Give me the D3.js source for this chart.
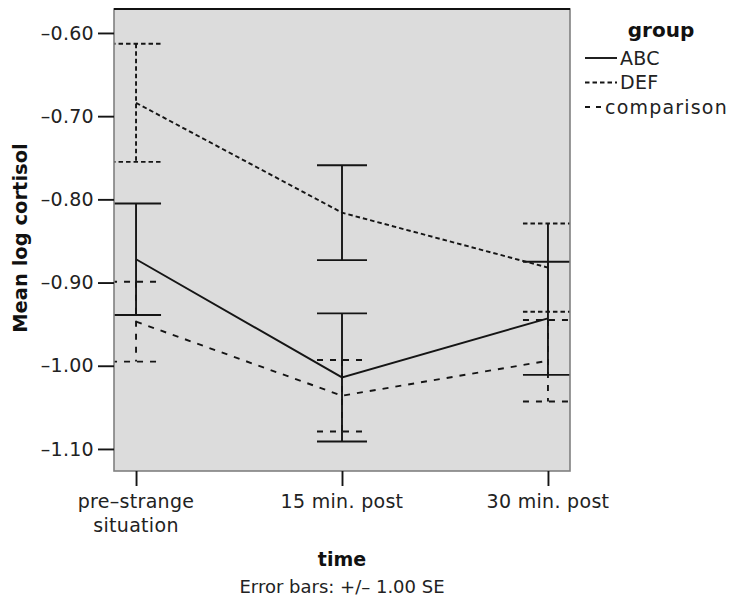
<!DOCTYPE html>
<html lang="en">
<head>
    <meta charset="UTF-8">
    <title>Mean log cortisol by time</title>
    <script src="https://d3js.org/d3.v7.min.js"></script>
    <style>
        body { margin: 0; background: #fff; }
        #canvas { font-family: "DejaVu Sans", sans-serif; }
    </style>
</head>
<body>
<svg id="canvas" width="736" height="604"></svg>
<script>
    // chart data
    const times = ["pre", "15", "30"];
    const timeLabels = [["pre\u2013strange", "situation"], ["15 min. post"], ["30 min. post"]];
    const groups = ["ABC", "DEF", "comparison"];
    const abcMean = [-0.872, -1.014, -0.943];
    const abcSE = [0.067, 0.077, 0.068];
    const defMean = [-0.684, -0.816, -0.882];
    const defSE = [0.071, 0.057, 0.053];
    const compMean = [-0.947, -1.036, -0.994];
    const compSE = [0.048, 0.043, 0.049];
    const yTicks = [-0.60, -0.70, -0.80, -0.90, -1.00, -1.10];

    const dashes = {ABC: null, DEF: "4.5,3", comparison: "6,7"};
    // the original draws some error bars of a dashed group solid
    const series = [
        {name: "ABC", mean: abcMean, se: abcSE, solidStem: [true, true, true], solidCap: [true, true, true]},
        {name: "DEF", mean: defMean, se: defSE, solidStem: [false, true, true], solidCap: [false, true, false]},
        {name: "comparison", mean: compMean, se: compSE, solidStem: [false, false, false], solidCap: [false, false, false]}
    ];

    const plotL = 114, plotR = 570, plotT = 9, plotB = 471;
    const svg = d3.select("#canvas");

    let x = d3.scalePoint().domain(times).range([plotL, plotR]).padding(0.107);
    let y = d3.scaleLinear().domain([-0.5712, -1.1265]).range([plotT, plotB]);

    svg.append("clipPath").attr("id", "plotclip")
        .append("rect")
        .attr("x", plotL).attr("y", plotT)
        .attr("width", plotR - plotL).attr("height", plotB - plotT);

    // plot background
    svg.append("rect")
        .attr("x", plotL).attr("y", plotT)
        .attr("width", plotR - plotL).attr("height", plotB - plotT)
        .attr("fill", "#dcdcdc");

    let plot = svg.append("g").attr("clip-path", "url(#plotclip)");

    let fmt = d => d3.format(".2f")(d).replace("-", "\u2013").replace("\u2212", "\u2013");
    let line = d3.line().x((d, i) => x(times[i])).y(d => y(d));

    series.forEach(function (s) {
        let g = plot.append("g")
            .attr("fill", "none")
            .attr("stroke", "#151515")
            .attr("stroke-width", 1.9);

        g.append("path").attr("d", line(s.mean)).attr("stroke-dasharray", dashes[s.name]);

        s.mean.forEach(function (m, i) {
            let cx = x(times[i]);
            let hi = y(m + s.se[i]), lo = y(m - s.se[i]);
            let stemDash = s.solidStem[i] ? null : dashes[s.name];
            let capDash = s.solidCap[i] ? null : dashes[s.name];
            g.append("line").attr("x1", cx).attr("x2", cx).attr("y1", hi).attr("y2", lo)
                .attr("stroke-dasharray", stemDash);
            g.append("line").attr("x1", cx - 25).attr("x2", cx + 25).attr("y1", hi).attr("y2", hi)
                .attr("stroke-dasharray", capDash);
            g.append("line").attr("x1", cx - 25).attr("x2", cx + 25).attr("y1", lo).attr("y2", lo)
                .attr("stroke-dasharray", capDash);
        });
    });

    // frame
    svg.append("rect")
        .attr("x", plotL).attr("y", plotT)
        .attr("width", plotR - plotL).attr("height", plotB - plotT)
        .attr("fill", "none").attr("stroke", "#808080").attr("stroke-width", 1.6);
    svg.append("line")
        .attr("x1", plotL).attr("x2", plotR).attr("y1", plotT).attr("y2", plotT)
        .attr("stroke", "#111").attr("stroke-width", 1.8);

    // y axis
    let yAxis = svg.append("g")
        .attr("transform", "translate(" + plotL + ",0)")
        .call(d3.axisLeft(y).tickValues(yTicks).tickFormat(fmt).tickSize(16).tickSizeOuter(0).tickPadding(4));
    yAxis.select(".domain").remove();
    yAxis.selectAll(".tick line").attr("stroke", "#151515").attr("stroke-width", 1.9);
    yAxis.selectAll(".tick text")
        .attr("font-family", "DejaVu Sans, sans-serif")
        .attr("font-size", 19).attr("letter-spacing", 0.3).attr("fill", "#222");

    // x axis
    let xAxis = svg.append("g")
        .attr("transform", "translate(0," + plotB + ")")
        .call(d3.axisBottom(x).tickSize(15).tickSizeOuter(0).tickFormat(""));
    xAxis.select(".domain").remove();
    xAxis.selectAll(".tick line").attr("stroke", "#151515").attr("stroke-width", 1.9);

    times.forEach(function (t, i) {
        let txt = svg.append("text")
            .attr("x", x(t)).attr("y", 508)
            .attr("text-anchor", "middle")
            .attr("font-size", 19).attr("letter-spacing", 0.3).attr("fill", "#222");
        timeLabels[i].forEach(function (l, j) {
            txt.append("tspan").attr("x", x(t)).attr("dy", j === 0 ? 0 : 24).text(l);
        });
    });

    // axis titles
    svg.append("text")
        .attr("transform", "translate(27,238) rotate(-90)")
        .attr("text-anchor", "middle")
        .attr("font-size", 19.5).attr("font-weight", "bold").attr("fill", "#111")
        .text("Mean log cortisol");

    svg.append("text")
        .attr("x", x("15")).attr("y", 566)
        .attr("text-anchor", "middle")
        .attr("font-size", 19).attr("font-weight", "bold").attr("fill", "#111")
        .text("time");

    svg.append("text")
        .attr("x", x("15")).attr("y", 593)
        .attr("text-anchor", "middle")
        .attr("font-size", 18).attr("fill", "#222")
        .text("Error bars: +/\u2013 1.00 SE");

    // legend
    svg.append("text")
        .attr("x", 661).attr("y", 37)
        .attr("text-anchor", "middle")
        .attr("font-size", 20).attr("font-weight", "bold").attr("fill", "#111")
        .text("group");

    const legendLen = {ABC: 32, DEF: 32, comparison: 17};
    groups.forEach(function (gname, i) {
        let ly = 58 + i * 24.5;
        svg.append("line")
            .attr("x1", 585).attr("x2", 585 + legendLen[gname]).attr("y1", ly).attr("y2", ly)
            .attr("stroke", "#151515").attr("stroke-width", 1.9)
            .attr("stroke-dasharray", gname === "comparison" ? "5,6" : dashes[gname]);
        svg.append("text")
            .attr("x", 585 + legendLen[gname] + 3).attr("y", ly + 6.5)
            .attr("font-size", 19).attr("letter-spacing", gname === "comparison" ? 1.2 : 0.3)
            .attr("fill", "#222")
            .text(gname);
    });
</script>
</body>
</html>
